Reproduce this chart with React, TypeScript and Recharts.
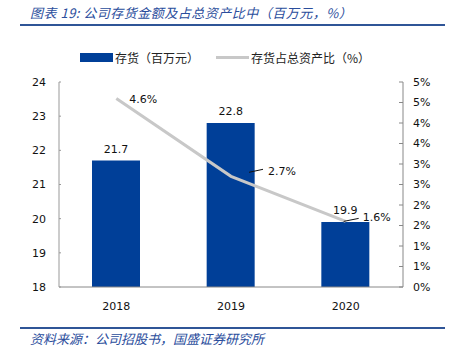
import { ComposedChart, Bar, Line, XAxis, YAxis, LabelList } from 'recharts';

const years = ['2018', '2019', '2020'];
const inventory = [21.7, 22.8, 19.9];
const inventoryShare = [4.6, 2.7, 1.6];
const leftTicks = [18, 19, 20, 21, 22, 23, 24];
const rightTicks = [0, 0.5, 1, 1.5, 2, 2.5, 3, 3.5, 4, 4.5, 5];
const boundaryTicks = [0, 1, 2, 3];

const chartData = years.map((year, i) => ({
  year,
  inventory: inventory[i],
  share: inventoryShare[i],
}));

const NUM_FONT = '"DejaVu Sans", Verdana, sans-serif';
const CJK_FONT = '"Noto Sans CJK SC", "Noto Sans", sans-serif';
const BLUE = '#003f98';
const GREY = '#c8c8c8';
const TEXT_BLUE = '#2a4d9c';

// label placement for the share line, per point (leader line + text)
const shareLabel = (props: any) => {
  const { x, y, value, index } = props;
  const text = `${Number(value).toFixed(1)}%`;
  if (index === 0) {
    return (
      <text x={x + 13} y={y + 2} fontSize={11} fontFamily={NUM_FONT} fill="#111" dominantBaseline="middle">
        {text}
      </text>
    );
  }
  const lead = index === 1 ? { x1: 18, y1: -4, x2: 32, y2: -7, tx: 37, ty: -4 } : { x1: -2, y1: 0, x2: 13, y2: -3, tx: 17, ty: -3 };
  return (
    <g>
      <line x1={x + lead.x1} y1={y + lead.y1} x2={x + lead.x2} y2={y + lead.y2} stroke="#111" strokeWidth={1} />
      <text x={x + lead.tx} y={y + lead.ty} fontSize={11} fontFamily={NUM_FONT} fill="#111" dominantBaseline="middle">
        {text}
      </text>
    </g>
  );
};

export default function App() {
  return (
    <div style={{ position: 'fixed', left: 0, top: 0, width: 454, height: 357, background: '#fff', overflow: 'hidden' }}>
      <div
        style={{
          position: 'absolute', left: 30, top: 3, fontFamily: CJK_FONT, fontSize: 13,
          fontStyle: 'italic', color: TEXT_BLUE, whiteSpace: 'nowrap', letterSpacing: 0.5,
        }}
      >
        图表 19:  公司存货金额及占总资产比中（百万元，%）
      </div>
      <div style={{ position: 'absolute', left: 20, top: 24, width: 425, height: 2, background: '#2f5597' }} />

      <div
        style={{
          position: 'absolute', left: 80, top: 49, display: 'flex', alignItems: 'center',
          fontFamily: CJK_FONT, fontSize: 12, color: '#222', whiteSpace: 'nowrap',
        }}
      >
        <span style={{ display: 'inline-block', width: 33, height: 9, background: BLUE, marginRight: 2 }} />
        <span>存货（百万元）</span>
        <span style={{ display: 'inline-block', width: 33, height: 3, background: GREY, marginLeft: 17, marginRight: 2 }} />
        <span>存货占总资产比（%）</span>
      </div>

      <ComposedChart
        width={454}
        height={357}
        data={chartData}
        margin={{ top: 82, right: 11, bottom: 40, left: 19 }}
      >
        <XAxis
          xAxisId="edge"
          type="number"
          domain={[0, 3]}
          ticks={boundaryTicks}
          tick={false}
          axisLine={false}
          tickLine={{ stroke: '#888' }}
          tickSize={-4}
          height={0}
        />
        <XAxis
          dataKey="year"
          xAxisId="cat"
          tickLine={false}
          axisLine={{ stroke: '#888' }}
          tick={{ fontSize: 11, fontFamily: NUM_FONT, fill: '#111' }}
          tickMargin={9}
          height={30}
        />
        <YAxis
          yAxisId="left"
          domain={[18, 24]}
          ticks={leftTicks}
          interval={0}
          axisLine={{ stroke: '#999' }}
          tickLine={{ stroke: '#999' }}
          tickSize={-2}
          tickMargin={15}
          width={40}
          tick={{ fontSize: 11, fontFamily: NUM_FONT, fill: '#111' }}
        />
        <YAxis
          yAxisId="right"
          orientation="right"
          domain={[0, 5]}
          ticks={rightTicks}
          interval={0}
          tickFormatter={(v: number) => `${Math.round(v)}%`}
          axisLine={{ stroke: '#888' }}
          tickLine={{ stroke: '#888' }}
          tickSize={-4}
          tickMargin={14}
          width={40}
          tick={{ fontSize: 11, fontFamily: NUM_FONT, fill: '#111', textAnchor: 'start' }}
        />
        <Bar
          dataKey="inventory"
          xAxisId="cat"
          yAxisId="left"
          fill={BLUE}
          barSize={48}
          isAnimationActive={false}
        >
          <LabelList
            dataKey="inventory"
            position="top"
            offset={8}
            style={{ fontSize: 11, fontFamily: NUM_FONT, fill: '#111' }}
            formatter={(v: any) => Number(v).toFixed(1)}
          />
        </Bar>
        <Line
          dataKey="share"
          xAxisId="cat"
          yAxisId="right"
          type="linear"
          stroke={GREY}
          strokeWidth={3}
          dot={false}
          activeDot={false}
          isAnimationActive={false}
        >
          <LabelList dataKey="share" content={shareLabel} />
        </Line>
      </ComposedChart>

      <div style={{ position: 'absolute', left: 20, top: 327, width: 425, height: 1.5, background: '#2f5597' }} />
      <div
        style={{
          position: 'absolute', left: 30, top: 329, fontFamily: CJK_FONT, fontSize: 13,
          fontStyle: 'italic', color: TEXT_BLUE, whiteSpace: 'nowrap',
        }}
      >
        资料来源：公司招股书，国盛证券研究所
      </div>
    </div>
  );
}
